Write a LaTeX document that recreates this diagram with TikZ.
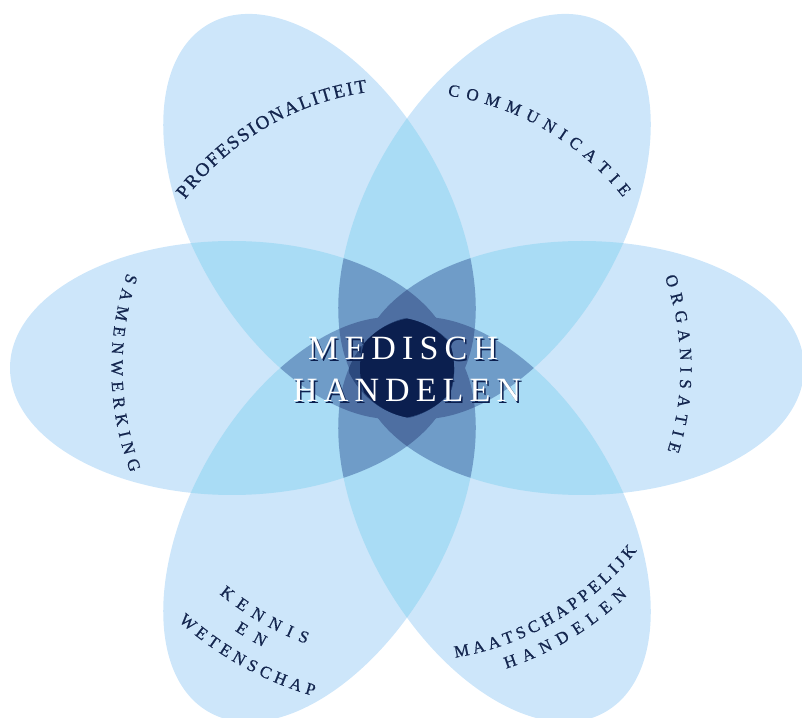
\documentclass[tikz,border=0pt]{standalone}
\usepackage{fontspec}
\setmainfont{Liberation Serif}
\usetikzlibrary{calc}
\definecolor{cA}{HTML}{CDE6FA}
\definecolor{cB}{HTML}{A9DCF5}
\definecolor{cC}{HTML}{6F9CC8}
\definecolor{cD}{HTML}{4E6FA2}
\definecolor{cE}{HTML}{2C4A7E}
\definecolor{cF}{HTML}{0B1F4F}
\definecolor{ink}{HTML}{14264F}
\newcommand\petal[1]{($(C)+({#1*60}:175pt)$) ellipse [x radius=222pt, y radius=127pt, rotate={#1*60}]}
% #1 name, #2 size, #3 baseline radius, #4 centre angle, #5 direction, #6 tracking, #7 letters
\newcommand\arclabel[7]{%
  \font\lblmeas="Liberation Serif" at #2pt\relax
  \gdef\arcw{0}%
  \foreach \ch in {#7}{%
    \setbox0=\hbox{\lblmeas\ch}%
    \pgfmathsetmacro\chwv{\the\wd0}%
    \pgfmathsetmacro\tmpw{\arcw+\chwv+#6}%
    \xdef\arcw{\tmpw}}%
  \pgfmathsetmacro\tot{\arcw-#6}%
  \gdef\arcs{0}%
  \foreach \ch [count=\n] in {#7}{%
    \setbox0=\hbox{\lblmeas\ch}%
    \pgfmathsetmacro\chwv{\the\wd0}%
    \pgfmathsetmacro\midp{\arcs+\chwv/2}%
    \pgfmathsetmacro\arcang{#4+(#5)*(\midp-\tot/2)*57.29578/#3}%
    \node[lbl, font=\fontsize{#2pt}{#2pt}\selectfont\addfontfeature{FakeBold=0.7}, rotate=\arcang+(#5)*90] (#1-\n) at ($(C)+(\arcang:#3pt)$) {\ch};%
    \pgfmathsetmacro\tmpw{\arcs+\chwv+#6}%
    \xdef\arcs{\tmpw}}%
}
\tikzset{
  lbl/.style={inner sep=0pt, anchor=base, text=ink},
  centre/.style={inner sep=0pt, anchor=base west, font=\fontsize{34pt}{34pt}\selectfont\addfontfeature{LetterSpace=18}},
}
\begin{document}
\begin{tikzpicture}[x=1pt,y=1pt]
\useasboundingbox (0,0) rectangle (802,717);
\clip (0,0) rectangle (802,717);
\coordinate (C) at (407,349);
% one layer
\foreach \i in {0,...,5} {\fill[cA] \petal{\i};}
% two layers
\foreach \i in {0,...,4}{\pgfmathtruncatemacro\ia{\i+1}
  \foreach \j in {\ia,...,5}{
    \begin{scope}\clip \petal{\i}; \fill[cB] \petal{\j};\end{scope}}}
% three layers
\foreach \i in {0,...,3}{\pgfmathtruncatemacro\ia{\i+1}
  \foreach \j in {\ia,...,4}{\pgfmathtruncatemacro\ja{\j+1}
    \foreach \k in {\ja,...,5}{
      \begin{scope}\clip \petal{\i}; \clip \petal{\j}; \fill[cC] \petal{\k};\end{scope}}}}
% four layers
\foreach \pa in {0,...,2}{\pgfmathtruncatemacro\qa{\pa+1}
  \foreach \pb in {\qa,...,3}{\pgfmathtruncatemacro\qb{\pb+1}
    \foreach \pc in {\qb,...,4}{\pgfmathtruncatemacro\qc{\pc+1}
      \foreach \pd in {\qc,...,5}{
        \begin{scope}\clip \petal{\pa}; \clip \petal{\pb}; \clip \petal{\pc}; \fill[cD] \petal{\pd};\end{scope}}}}}
% five layers
\foreach \x in {0,...,5}{
  \begin{scope}
    \clip \petal{\x+1}; \clip \petal{\x+2}; \clip \petal{\x+3}; \clip \petal{\x+4};
    \fill[cE] \petal{\x+5};
  \end{scope}}
% six layers
\begin{scope}
  \clip \petal{0}; \clip \petal{1}; \clip \petal{2}; \clip \petal{3}; \clip \petal{4};
  \fill[cF] \petal{5};
\end{scope}
% labels
\arclabel{prof}{19}{278.7}{120.5}{-1}{1.9}{P,R,O,F,E,S,S,I,O,N,A,L,I,T,E,I,T}
\arclabel{comm}{17}{275.4}{59.9}{-1}{6.7}{C,O,M,M,U,N,I,C,A,T,I,E}
\arclabel{org}{17}{273.4}{0.9}{-1}{6.3}{O,R,G,A,N,I,S,A,T,I,E}
\arclabel{sam}{17}{295.6}{181}{1}{5.8}{S,A,M,E,N,W,E,R,K,I,N,G}
\arclabel{ken}{17}{293.6}{240.1}{1}{7.7}{K,E,N,N,I,S}
\arclabel{en}{17}{314}{239.7}{1}{10}{E,N}
\arclabel{wet}{17}{341}{241}{1}{4.6}{W,E,T,E,N,S,C,H,A,P}
\arclabel{maat}{17}{293.6}{300.5}{1}{4.0}{M,A,A,T,S,C,H,A,P,P,E,L,I,J,K}
\arclabel{hand}{17}{316.6}{301.2}{1}{7.2}{H,A,N,D,E,L,E,N}
% centre text
\node[centre, text=cF] (meds) at (309.5,355.5) {MEDISCH};
\node[centre, text=white] (med) at (308,357) {MEDISCH};
\node[centre, text=cF] (hands) at (294.5,313.5) {HANDELEN};
\node[centre, text=white] (hand) at (293,315) {HANDELEN};
\end{tikzpicture}
\end{document}
